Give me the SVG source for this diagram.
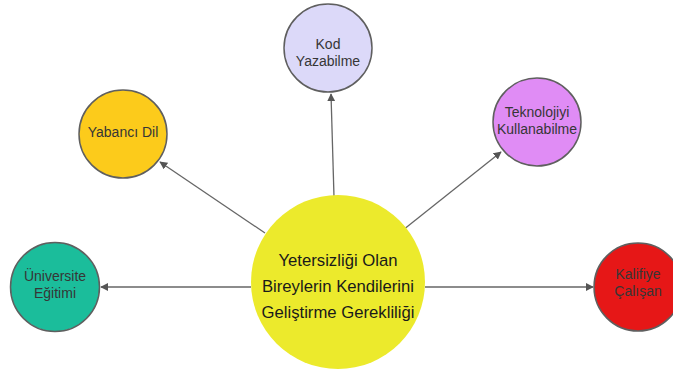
<svg xmlns="http://www.w3.org/2000/svg" width="673" height="376" viewBox="0 0 673 376">
  <style>
    .node { stroke: #5f5f5f; stroke-width: 1.5; }
    .lbl { font-family: "Liberation Sans", Arial, sans-serif; font-size: 14px; fill: #363636; text-anchor: middle; }
    .main { font-family: "Liberation Sans", Arial, sans-serif; font-size: 16.7px; fill: #1a1a1a; text-anchor: middle; }
    .edge { stroke: #666666; stroke-width: 1.3; fill: none; marker-end: url(#arrow); }
  </style>
  <defs>
    <marker id="arrow" viewBox="0 0 10 10" refX="9" refY="5" markerWidth="8" markerHeight="8" markerUnits="userSpaceOnUse" orient="auto">
      <path d="M0,0 L10,5 L0,10 Z" fill="#555555"/>
    </marker>
  </defs>
  <rect width="673" height="376" fill="#ffffff"/>

  <g id="connectors">
    <line class="edge" x1="251" y1="287" x2="101" y2="287"/>
    <line class="edge" x1="425" y1="287" x2="593" y2="287"/>
    <line class="edge" x1="334" y1="197" x2="331" y2="94"/>
    <line class="edge" x1="265" y1="233" x2="160" y2="162"/>
    <line class="edge" x1="403" y1="230" x2="501" y2="152"/>
  </g>

  <g id="center">
    <circle cx="338" cy="282" r="87" fill="#ecea2c"/>
    <text class="main" x="338" y="266">Yetersizliği Olan</text>
    <text class="main" x="338" y="292">Bireylerin Kendilerini</text>
    <text class="main" x="338" y="318">Geliştirme Gerekliliği</text>
  </g>

  <g id="universite">
    <circle class="node" cx="55" cy="287" r="44.5" fill="#1bbd9b"/>
    <text class="lbl" x="55" y="281">Üniversite</text>
    <text class="lbl" x="55" y="298">Eğitimi</text>
  </g>

  <g id="kalifiye">
    <circle class="node" cx="638" cy="287" r="44" fill="#e61717"/>
    <text class="lbl" x="638" y="279">Kalifiye</text>
    <text class="lbl" x="638" y="296">Çalışan</text>
  </g>

  <g id="kod">
    <circle class="node" cx="328" cy="48" r="44" fill="#dcd9f9"/>
    <text class="lbl" x="328" y="49">Kod</text>
    <text class="lbl" x="328" y="66">Yazabilme</text>
  </g>

  <g id="yabanci">
    <circle class="node" cx="123" cy="134" r="44" fill="#fccb1b"/>
    <text class="lbl" x="123" y="137">Yabancı Dil</text>
  </g>

  <g id="teknoloji">
    <circle class="node" cx="537" cy="122" r="44" fill="#e08cf5"/>
    <text class="lbl" x="537" y="117">Teknolojiyi</text>
    <text class="lbl" x="537" y="134">Kullanabilme</text>
  </g>
</svg>
